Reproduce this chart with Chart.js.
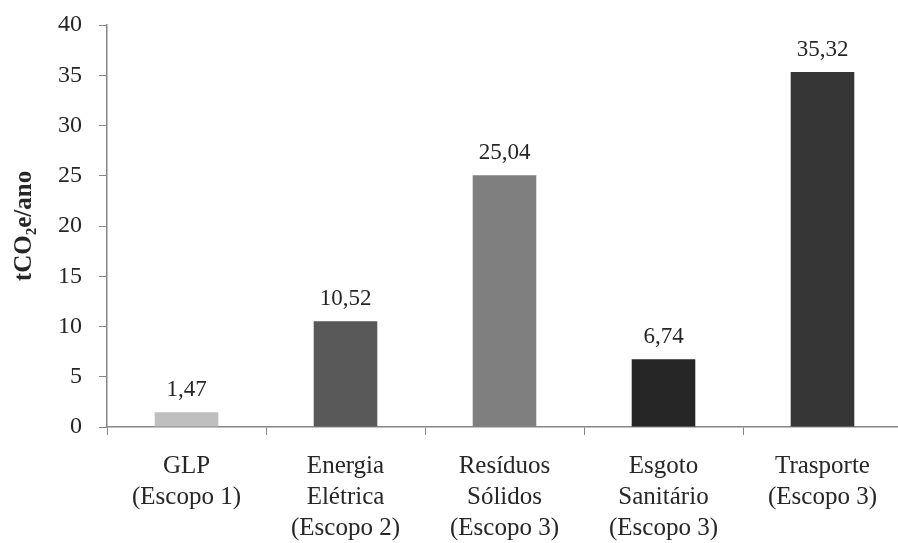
<!DOCTYPE html>
<html>
<head>
<meta charset="utf-8">
<script src="https://cdn.jsdelivr.net/npm/chart.js@4/dist/chart.umd.min.js"></script>
<style>
html,body{margin:0;padding:0;background:#fff;overflow:hidden;}
#wrap{width:906px;height:543px;}
</style>
</head>
<body>
<div id="wrap"><canvas id="c" width="906" height="543"></canvas></div>
<script>
const categories = [
  ["GLP", "(Escopo 1)"],
  ["Energia", "Elétrica", "(Escopo 2)"],
  ["Resíduos", "Sólidos", "(Escopo 3)"],
  ["Esgoto", "Sanitário", "(Escopo 3)"],
  ["Trasporte", "(Escopo 3)"]
];
const emissions = [1.47, 10.52, 25.04, 6.74, 35.32];
const barColors = ["#bfbfbf", "#595959", "#7f7f7f", "#262626", "#363636"];
const yTitle = "tCO₂e/ano";
const yMin = 0, yMax = 40, yStep = 5;

const FONT = "'Liberation Serif', 'Times New Roman', serif";
const AXIS = "#868686";

const valueLabels = {
  id: 'valueLabels',
  afterDatasetsDraw(chart) {
    const ctx = chart.ctx;
    const meta = chart.getDatasetMeta(0);
    ctx.save();
    ctx.font = "23px " + FONT;
    ctx.fillStyle = "#262626";
    ctx.textAlign = "center";
    ctx.textBaseline = "middle";
    meta.data.forEach((bar, i) => {
      const p = bar.getProps(['x', 'y'], true);
      ctx.fillText(emissions[i].toFixed(2).replace('.', ','), p.x, p.y - 22);
    });
    ctx.restore();
  }
};

new Chart(document.getElementById('c'), {
  type: 'bar',
  data: {
    labels: categories,
    datasets: [{
      data: emissions,
      backgroundColor: barColors,
      borderWidth: 0,
      barPercentage: 0.4,
      categoryPercentage: 1.0
    }]
  },
  options: {
    responsive: false,
    animation: false,
    devicePixelRatio: 1,
    layout: { padding: { top: 25, right: 4, left: 0, bottom: 0 } },
    plugins: { legend: { display: false }, tooltip: { enabled: false } },
    scales: {
      x: {
        offset: true,
        grid: { display: true, offset: true, drawOnChartArea: false, drawTicks: true, tickLength: 8, color: AXIS, lineWidth: 1 },
        border: { display: true, color: AXIS, width: 1.5 },
        ticks: { color: "#262626", font: { family: FONT, size: 25, lineHeight: 1.24 }, padding: 16, maxRotation: 0, autoSkip: false },
        afterFit(s) { s.height = 116; s.paddingLeft = 0; s.paddingRight = 0; }
      },
      y: {
        min: yMin, max: yMax,
        grid: { display: true, drawOnChartArea: false, drawTicks: true, tickLength: 8, color: AXIS, lineWidth: 1 },
        border: { display: true, color: AXIS, width: 1.5 },
        ticks: { stepSize: yStep, color: "#262626", font: { family: FONT, size: 24 }, padding: 17 },
        title: { display: true, text: yTitle, color: "#262626", font: { family: FONT, size: 25, weight: 'bold' }, padding: { top: 10, bottom: 0 } },
        afterFit(s) { s.width = 107; s.paddingTop = 0; s.paddingBottom = 0; }
      }
    }
  },
  plugins: [valueLabels]
});
</script>
</body>
</html>
